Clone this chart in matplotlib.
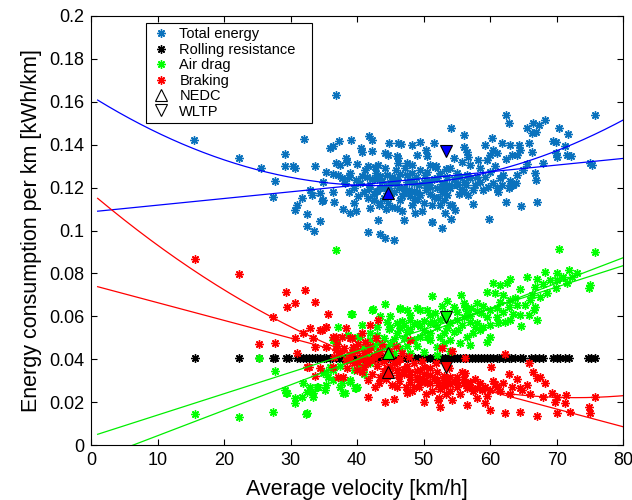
import numpy as np
import matplotlib
matplotlib.use("Agg")
import matplotlib.pyplot as plt
from matplotlib.lines import Line2D
from matplotlib.ticker import FuncFormatter

plt.rcParams['font.family'] = ['Liberation Sans', 'DejaVu Sans']

# Total energy per trip (x: average velocity km/h, y: kWh/km)
total_pts = [
    (15.5, 0.142), (22.2, 0.134), (25.5, 0.129), (27.7, 0.123), (27.3, 0.1158),
    (29.2, 0.1357), (29.2, 0.130), (30.4, 0.130), (30.6, 0.129), (32.0, 0.1426),
    (33.7, 0.130), (31.7, 0.115), (30.9, 0.1119), (30.7, 0.1096), (32.4, 0.1075),
    (32.4, 0.1021), (33.5, 0.0998), (34.4, 0.1044), (32.9, 0.1189), (33.2, 0.1165),
    (34.4, 0.1173), (34.9, 0.1142), (36.4, 0.1181), (36.5, 0.1134), (34.8, 0.1137),
    (35.9, 0.1386), (36.4, 0.1393), (37.3, 0.1419), (39.1, 0.1422), (41.8, 0.1440),
    (42.2, 0.1422), (40.6, 0.1386), (40.7, 0.1367), (42.3, 0.1372), (44.8, 0.1406),
    (46.2, 0.1406), (46.6, 0.1402), (48.3, 0.1399), (49.4, 0.1411), (50.4, 0.1375),
    (51.6, 0.1406), (36.9, 0.1313), (37.4, 0.1305), (38.4, 0.134), (38.5, 0.132),
    (40.0, 0.1308), (41.6, 0.1302), (43.2, 0.1305), (44.2, 0.136), (44.7, 0.1352),
    (46.0, 0.1349), (46.2, 0.1337), (47.5, 0.1313), (49.0, 0.1352), (50.5, 0.1347),
    (51.0, 0.1305), (51.7, 0.1297), (35.3, 0.1271), (36.4, 0.1262), (37.2, 0.1259),
    (38.9, 0.1267), (38.8, 0.1251), (37.7, 0.1243), (34.9, 0.1228), (37.9, 0.110),
    (38.9, 0.108), (39.8, 0.1091), (39.5, 0.1127), (41.7, 0.115), (42.0, 0.1106),
    (42.5, 0.1142), (43.5, 0.1127), (43.2, 0.1049), (44.4, 0.110), (46.0, 0.1103),
    (47.0, 0.1049), (48.7, 0.108), (51.2, 0.1041), (41.6, 0.0994), (43.5, 0.0982),
    (44.2, 0.0963), (45.5, 0.0956), (36.9, 0.163), (62.4, 0.1538), (62.8, 0.150),
    (54.1, 0.1476), (56.1, 0.1445), (60.3, 0.143), (65.5, 0.1476), (66.5, 0.1503),
    (67.3, 0.1492), (68.2, 0.1515), (66.3, 0.1453), (66.9, 0.146), (70.3, 0.1476),
    (71.7, 0.1448), (75.8, 0.1538), (69.5, 0.1417), (69.9, 0.1414), (71.3, 0.1394),
    (69.9, 0.136), (70.0, 0.1344), (71.5, 0.1352), (72.2, 0.1349), (75.0, 0.1313),
    (75.3, 0.1305), (67.9, 0.1316), (65.9, 0.1406), (66.3, 0.1367), (66.7, 0.127),
    (66.9, 0.1235), (63.9, 0.122), (63.5, 0.1212), (62.4, 0.1134), (64.6, 0.1114),
    (67.0, 0.1134), (59.9, 0.1052), (57.4, 0.1122), (54.1, 0.1054), (52.7, 0.1013),
    (51.2, 0.1038), (61.8, 0.1406), (63.0, 0.1399), (64.3, 0.1399), (64.5, 0.1375),
    (64.1, 0.1352), (63.3, 0.1352), (59.2, 0.1399), (60.5, 0.1375), (61.0, 0.136),
    (62.4, 0.1333), (60.0, 0.1352), (59.5, 0.1329), (56.0, 0.139), (56.5, 0.1367),
    (56.7, 0.1344), (57.0, 0.1305), (58.2, 0.1329), (58.5, 0.129), (55.7, 0.132),
    (54.5, 0.1337), (60.0, 0.1274), (61.5, 0.1243), (61.8, 0.1212), (61.0, 0.1196),
    (61.2, 0.118), (59.7, 0.1204), (58.5, 0.1228), (58.0, 0.1251), (57.0, 0.1243),
    (56.0, 0.1228), (55.0, 0.1212), (54.0, 0.1196), (53.5, 0.1165), (53.0, 0.1142),
    (52.5, 0.1119), (54.0, 0.1119), (54.7, 0.1096), (53.2, 0.108), (56.0, 0.118),
    (56.7, 0.1165), (57.5, 0.1189), (62.8, 0.1196), (63.3, 0.1212), (64.0, 0.1259),
    (40.5, 0.122), (41.0, 0.118), (41.5, 0.125), (42.0, 0.121), (42.5, 0.117),
    (43.0, 0.124), (43.5, 0.120), (44.0, 0.115), (44.5, 0.126), (45.0, 0.122),
    (45.5, 0.118), (46.0, 0.124), (46.5, 0.114), (47.0, 0.120), (47.5, 0.126),
    (48.0, 0.116), (48.5, 0.122), (49.0, 0.118), (49.5, 0.128), (50.0, 0.113),
    (50.5, 0.121), (51.0, 0.117), (51.5, 0.124), (52.0, 0.120), (52.5, 0.127),
    (53.0, 0.122), (53.5, 0.125), (54.0, 0.129), (54.5, 0.124), (55.0, 0.127),
    (41.2, 0.128), (42.8, 0.127), (44.2, 0.129), (45.8, 0.128), (47.2, 0.129),
    (48.8, 0.125), (50.2, 0.126), (51.8, 0.130), (43.3, 0.112), (45.2, 0.111),
    (46.8, 0.109), (48.2, 0.112), (49.8, 0.109), (51.3, 0.112), (52.2, 0.115),
    (40.2, 0.116), (39.5, 0.120), (38.8, 0.118), (38.2, 0.122), (44.8, 0.120),
    (46.3, 0.120), (47.8, 0.119), (49.3, 0.121), (50.8, 0.123), (52.8, 0.118),
    (55.5, 0.125), (56.5, 0.126), (45.3, 0.125), (43.8, 0.123), (42.2, 0.124),
    (48.3, 0.127), (50.3, 0.119), (53.8, 0.121), (55.3, 0.117), (57.8, 0.121),
    (46.7, 0.116), (48.7, 0.114), (44.6, 0.113), (42.6, 0.114), (54.3, 0.112),
    (56.3, 0.121), (59.0, 0.119), (60.5, 0.122), (62.0, 0.126), (63.0, 0.123),
    (65.0, 0.128), (65.5, 0.131), (60.7, 0.130), (59.3, 0.125),
    (43.0, 0.1185), (44.0, 0.1205), (45.0, 0.1165), (46.0, 0.1215), (47.0, 0.1175),
    (48.0, 0.1235), (49.0, 0.1145), (50.0, 0.1225), (51.0, 0.1205), (52.0, 0.1245),
    (53.0, 0.1195), (47.5, 0.1225), (45.5, 0.1235), (43.5, 0.1255), (49.5, 0.1165),
    (51.5, 0.1155), (46.5, 0.1265), (44.5, 0.1175), (48.5, 0.1185), (50.5, 0.1275),
    (41.8, 0.1195), (40.8, 0.1255), (39.8, 0.1235), (52.7, 0.1215), (54.8, 0.1215),
    (55.8, 0.1195), (42.7, 0.1295), (46.2, 0.1315), (48.2, 0.1305), (53.3, 0.1285),
]

# Rolling resistance (constant per km)
rolling_x = [15.6, 22.3, 25.3, 27.3, 27.7, 29.3, 29.7, 31.0, 31.4, 31.9, 32.3, 32.8,
             33.2, 33.6, 34.0, 34.5, 35.0, 35.4, 35.9, 36.3, 36.8, 37.3, 37.7, 38.2,
             38.6, 39.1, 39.5, 40.0, 40.4, 40.9, 41.4, 41.8, 42.3, 42.7, 43.2, 43.6,
             44.1, 44.6, 45.0, 45.5, 45.9, 46.4, 46.8, 47.3, 47.7, 48.2, 48.7, 49.1,
             49.6, 50.0, 50.5, 50.9, 51.4, 51.8, 52.3, 52.8, 53.2, 53.7, 54.1, 54.6,
             55.0, 55.5, 55.9, 56.4, 56.9, 57.3, 57.8, 58.2, 58.7, 59.1, 59.6, 60.0,
             60.5, 61.0, 61.4, 61.9, 62.3, 62.8, 63.2, 63.8, 64.5, 65.0, 66.2, 66.7,
             67.3, 68.0, 69.5, 70.0, 70.5, 71.3, 71.8, 74.7, 75.2, 75.8]
rolling_y = [0.0405] * len(rolling_x)

# Air drag
air_pts = [
    (15.6, 0.0143), (22.3, 0.0132), (25.3, 0.0407), (27.3, 0.0152), (27.7, 0.0346),
    (29.3, 0.0241), (29.2, 0.0256), (30.7, 0.0194), (30.6, 0.0218), (31.7, 0.0225),
    (32.4, 0.0148), (32.4, 0.0248), (32.9, 0.0272), (33.4, 0.0225), (34.2, 0.0272),
    (35.2, 0.0256), (35.4, 0.028), (35.3, 0.0342), (35.7, 0.0318), (36.4, 0.035),
    (36.9, 0.0909), (37.2, 0.0549), (39.1, 0.061), (37.7, 0.0288), (38.2, 0.0241),
    (36.4, 0.0489), (36.9, 0.0474), (39.7, 0.0264), (40.0, 0.0505), (32.3, 0.0144),
    (44.2, 0.0657), (42.3, 0.0629), (44.9, 0.0601), (46.4, 0.0633), (47.5, 0.0629),
    (49.0, 0.0637), (46.0, 0.0567), (47.0, 0.0559), (48.0, 0.0583), (45.0, 0.0552),
    (38.7, 0.0513), (40.5, 0.0505), (42.0, 0.0489), (43.0, 0.0474), (44.0, 0.0458),
    (35.9, 0.0365), (34.9, 0.0334), (36.4, 0.0303), (37.4, 0.0272), (38.9, 0.0303),
    (40.0, 0.0269), (33.9, 0.0272), (33.4, 0.0241), (31.9, 0.0288), (29.4, 0.0241),
    (70.4, 0.0914), (75.8, 0.0901), (68.2, 0.0808), (70.0, 0.080), (71.8, 0.0816),
    (72.3, 0.0785), (71.5, 0.0754), (69.9, 0.073), (67.0, 0.0772), (66.8, 0.0738),
    (65.5, 0.0785), (63.0, 0.0772), (62.5, 0.0754), (61.5, 0.0746), (60.5, 0.0754),
    (59.5, 0.0715), (60.8, 0.0707), (62.0, 0.070), (63.0, 0.0676), (64.5, 0.0726),
    (63.8, 0.0684), (64.0, 0.0653), (65.3, 0.0653), (66.3, 0.070), (66.8, 0.0645),
    (66.6, 0.0629), (67.0, 0.0583), (65.8, 0.0606), (64.6, 0.0555), (75.0, 0.0746),
    (74.8, 0.073), (70.0, 0.0769), (51.2, 0.0695), (53.5, 0.0673), (55.6, 0.070),
    (56.2, 0.0645), (57.2, 0.0637), (58.0, 0.066), (58.7, 0.0614), (60.0, 0.0629),
    (61.0, 0.0598), (61.2, 0.0567), (62.3, 0.0575), (63.0, 0.0583), (60.0, 0.0559),
    (59.0, 0.0552), (58.0, 0.0567), (57.0, 0.0575), (56.0, 0.0598), (55.0, 0.0583),
    (55.2, 0.0536), (56.5, 0.0505), (57.5, 0.0521), (58.5, 0.0536), (60.0, 0.0505),
    (59.5, 0.0482), (57.0, 0.0466), (55.5, 0.0474), (54.0, 0.0489), (53.0, 0.0474),
    (52.0, 0.0458), (51.0, 0.0489), (50.0, 0.0536), (49.0, 0.0567), (49.5, 0.0629),
    (50.5, 0.0629), (51.7, 0.0614), (53.5, 0.0614), (52.5, 0.0583), (51.0, 0.0567),
    (54.5, 0.0645), (49.5, 0.0505), (48.5, 0.0489), (48.0, 0.043), (50.0, 0.0435),
    (52.0, 0.042), (54.0, 0.044), (39.2, 0.0611), (42.4, 0.0632), (46.5, 0.0637),
    (37.9, 0.0241), (39.8, 0.0264), (38.9, 0.0295),
    (41.0, 0.045), (42.0, 0.052), (43.0, 0.055), (44.0, 0.050), (45.0, 0.047),
    (46.0, 0.052), (47.0, 0.050), (48.0, 0.054), (49.0, 0.046), (50.0, 0.058),
    (51.0, 0.052), (52.0, 0.055), (53.0, 0.052), (54.0, 0.057), (55.0, 0.062),
    (56.0, 0.066), (57.0, 0.060), (58.0, 0.0625), (59.0, 0.065), (61.0, 0.064),
    (62.0, 0.062), (63.5, 0.061), (64.5, 0.0605), (66.0, 0.0675), (68.0, 0.075),
    (69.0, 0.077), (71.0, 0.0785), (73.0, 0.080), (68.5, 0.071), (67.5, 0.069),
    (41.5, 0.041), (43.5, 0.044), (45.5, 0.043), (46.5, 0.045), (47.5, 0.046),
    (40.5, 0.037), (39.5, 0.035), (41.0, 0.033), (42.0, 0.038), (44.8, 0.054),
    (46.8, 0.058), (52.8, 0.065), (55.8, 0.056), (57.8, 0.055), (43.5, 0.060),
    (40.8, 0.056), (39.5, 0.045), (38.5, 0.040), (37.5, 0.037),
    (45.5, 0.0495), (46.5, 0.0545), (47.5, 0.0525), (48.5, 0.0565), (49.5, 0.0555),
    (50.5, 0.0505), (51.5, 0.0575), (52.5, 0.0505), (53.5, 0.0545), (54.5, 0.0525),
    (44.5, 0.0575), (43.0, 0.0515), (42.5, 0.0455), (48.0, 0.0605), (51.0, 0.0605),
    (53.0, 0.0595), (56.5, 0.0625), (59.5, 0.0595), (61.5, 0.0665), (62.8, 0.0645),
]

# Braking
brake_pts = [
    (15.6, 0.0866), (22.3, 0.0797), (29.3, 0.0712), (29.4, 0.0642), (30.6, 0.0663),
    (32.1, 0.0723), (33.7, 0.0665), (27.3, 0.0598), (25.3, 0.0471), (27.7, 0.0474),
    (30.7, 0.050), (31.0, 0.0427), (32.4, 0.0362), (32.9, 0.0544), (31.9, 0.0521),
    (33.4, 0.0497), (34.4, 0.0536), (35.4, 0.0552), (35.7, 0.0609), (36.9, 0.0505),
    (38.4, 0.0544), (36.9, 0.0443), (36.4, 0.0365), (33.6, 0.0322), (37.9, 0.0318),
    (38.4, 0.0396), (39.4, 0.0458), (34.7, 0.0536), (35.3, 0.0549), (36.4, 0.0505),
    (37.7, 0.0505), (39.2, 0.0497), (40.7, 0.0521), (42.0, 0.0559), (43.2, 0.0583),
    (35.4, 0.0458), (33.7, 0.0458), (32.7, 0.0365), (34.4, 0.0357), (37.2, 0.0318),
    (38.9, 0.0396), (41.5, 0.0396), (40.0, 0.035), (41.7, 0.0303), (42.7, 0.0272),
    (41.7, 0.0222), (44.2, 0.0199), (45.5, 0.0213), (46.0, 0.0272), (47.5, 0.0241),
    (48.0, 0.0295), (43.5, 0.0318), (45.0, 0.0334), (62.3, 0.0424), (65.9, 0.0384),
    (60.1, 0.0362), (62.8, 0.0331), (64.0, 0.0306), (66.5, 0.0342), (67.0, 0.0311),
    (67.5, 0.0316), (68.3, 0.029), (65.5, 0.028), (64.5, 0.0264), (63.3, 0.0272),
    (62.0, 0.0288), (61.0, 0.0272), (60.0, 0.0256), (59.2, 0.0272), (58.0, 0.0264),
    (57.0, 0.0272), (56.0, 0.0288), (55.0, 0.0318), (56.2, 0.0334), (54.0, 0.0318),
    (53.0, 0.0303), (52.2, 0.028), (51.0, 0.0288), (50.0, 0.0303), (49.0, 0.0318),
    (48.5, 0.0272), (50.0, 0.0202), (52.5, 0.0179), (56.5, 0.0186), (59.2, 0.0194),
    (60.0, 0.0163), (62.3, 0.0151), (64.5, 0.0155), (67.0, 0.0135), (69.3, 0.0241),
    (70.0, 0.0225), (71.4, 0.0233), (69.8, 0.0202), (71.3, 0.0194), (70.0, 0.0151),
    (72.0, 0.0155), (75.8, 0.0225), (74.8, 0.0179), (75.0, 0.0151), (48.0, 0.0489),
    (52.7, 0.0451), (54.2, 0.044), (56.2, 0.0404), (52.1, 0.021),
    (38.0, 0.045), (39.0, 0.042), (40.0, 0.044), (40.5, 0.040), (41.0, 0.043),
    (41.5, 0.038), (42.0, 0.046), (42.5, 0.041), (43.0, 0.037), (43.5, 0.044),
    (44.0, 0.039), (44.5, 0.036), (45.0, 0.041), (45.5, 0.038), (46.0, 0.035),
    (46.5, 0.040), (47.0, 0.033), (47.5, 0.037), (48.0, 0.034), (48.5, 0.038),
    (49.0, 0.031), (49.5, 0.035), (50.0, 0.033), (50.5, 0.029), (51.0, 0.036),
    (51.5, 0.031), (52.0, 0.034), (52.5, 0.026), (53.0, 0.032), (53.5, 0.029),
    (54.0, 0.025), (54.5, 0.030), (55.0, 0.027), (55.5, 0.024), (56.0, 0.031),
    (57.5, 0.025), (58.5, 0.029), (59.5, 0.023), (61.5, 0.025), (63.0, 0.024),
    (58.0, 0.022), (39.5, 0.038), (40.2, 0.047), (41.2, 0.048), (43.8, 0.047),
    (44.8, 0.044), (46.8, 0.043), (37.5, 0.043), (38.5, 0.036), (40.8, 0.034),
    (42.3, 0.033), (43.3, 0.029), (44.3, 0.031), (45.3, 0.028), (46.3, 0.030),
    (47.3, 0.027), (48.3, 0.025), (49.3, 0.027), (50.3, 0.024), (51.3, 0.025),
    (52.3, 0.022), (53.3, 0.024), (54.3, 0.021), (36.5, 0.041), (37.0, 0.047),
    (39.0, 0.050), (42.8, 0.050), (45.8, 0.046), (47.8, 0.041), (49.8, 0.039),
    (51.8, 0.038), (53.8, 0.036), (55.8, 0.034), (57.8, 0.031), (60.5, 0.030),
    (64.8, 0.0255), (66.0, 0.024), (68.0, 0.0225),
    (40.0, 0.0385), (41.0, 0.0365), (42.0, 0.0395), (43.0, 0.0425), (44.0, 0.0345),
    (45.0, 0.0365), (46.0, 0.0385), (47.0, 0.0355), (48.0, 0.0315), (49.0, 0.0345),
    (50.0, 0.0365), (51.0, 0.0325), (52.0, 0.0305), (53.0, 0.0275), (54.0, 0.0285),
    (55.0, 0.0295), (56.5, 0.0265), (57.0, 0.0295), (58.8, 0.0255), (60.8, 0.0285),
    (39.2, 0.0435), (41.8, 0.0445), (44.2, 0.0415), (46.2, 0.0325), (49.5, 0.0295),
]

# Drive cycles: [total, air drag, braking]
nedc_v = 44.6
nedc_vals = [0.1173, 0.0427, 0.0342]
wltp_v = 53.3
wltp_vals = [0.1372, 0.0595, 0.0362]

# Fit curves, polynomial coefficients (highest power first)
fit_range = [1, 80]
total_fits = [[2.248e-5, -0.0019386, 0.16272], [0.0003114, 0.10869]]
brake_fits = [[1.8e-5, -0.0026226, 0.1176], [-0.0008266, 0.07463]]
air_fits = [[0.000995, 0.004], [0.0011855, -0.00754]]

c_total = '#0a72bd'
c_air = '#00ff00'
c_brake = '#ff0000'
star = (8, 2, 0)

fig = plt.figure(figsize=(6.32, 5.0), dpi=100)
ax = fig.add_axes([0.144, 0.11, 0.842, 0.858])

def scatter(pts, color, label):
    x, y = zip(*pts)
    ax.plot(x, y, linestyle='none', marker=star, markersize=6, markeredgewidth=1.0,
            color=color, label=label)

scatter(total_pts, c_total, 'Total energy')
ax.plot(rolling_x, rolling_y, linestyle='none', marker=star, markersize=6,
        markeredgewidth=1.0, color='black', label='Rolling resistance')
scatter(air_pts, c_air, 'Air drag')
scatter(brake_pts, c_brake, 'Braking')

xf = np.linspace(fit_range[0], fit_range[1], 200)
for coefs in total_fits:
    ax.plot(xf, np.polyval(coefs, xf), color='#0000ff', lw=0.9)
for coefs in brake_fits:
    ax.plot(xf, np.polyval(coefs, xf), color='#ff0000', lw=0.9)
for coefs in air_fits:
    ax.plot(xf, np.polyval(coefs, xf), color='#00ee00', lw=0.9)

tri_cols = ['#0000ff', c_air, c_brake]
for val, col in zip(nedc_vals, tri_cols):
    ax.plot(nedc_v, val, marker='^', markersize=9, markerfacecolor=col,
            markeredgecolor='black', markeredgewidth=0.8, linestyle='none')
for val, col in zip(wltp_vals, tri_cols):
    ax.plot(wltp_v, val, marker='v', markersize=9, markerfacecolor=col,
            markeredgecolor='black', markeredgewidth=0.8, linestyle='none')

ax.set_xlim(0, 80)
ax.set_ylim(0, 0.2)
ax.set_xticks(np.arange(0, 81, 10))
ax.set_yticks(np.arange(0, 0.201, 0.02))
ax.yaxis.set_major_formatter(FuncFormatter(lambda v, p: '%g' % round(v, 2)))
ax.tick_params(direction='in', top=True, right=True, length=4, width=0.8,
               labelsize=13, pad=5)
for s in ax.spines.values():
    s.set_linewidth(0.8)
ax.set_xlabel('Average velocity [km/h]', fontsize=15.5, labelpad=7)
ax.set_ylabel('Energy consumption per km [kWh/km]', fontsize=15.5, labelpad=5)

handles = [
    Line2D([], [], linestyle='none', marker=star, markersize=6, markeredgewidth=1.0, color=c_total),
    Line2D([], [], linestyle='none', marker=star, markersize=6, markeredgewidth=1.0, color='black'),
    Line2D([], [], linestyle='none', marker=star, markersize=6, markeredgewidth=1.0, color=c_air),
    Line2D([], [], linestyle='none', marker=star, markersize=6, markeredgewidth=1.0, color=c_brake),
    Line2D([], [], linestyle='none', marker='^', markersize=8, markerfacecolor='white',
           markeredgecolor='black', markeredgewidth=0.8),
    Line2D([], [], linestyle='none', marker='v', markersize=8, markerfacecolor='white',
           markeredgecolor='black', markeredgewidth=0.8),
]
# trailing spaces widen the box like the MATLAB legend
labels = ['Total energy', 'Rolling resistance   ', 'Air drag', 'Braking', 'NEDC', 'WLTP']
leg = ax.legend(handles, labels, loc='upper left', bbox_to_anchor=(0.103, 0.984),
                borderaxespad=0, fancybox=False, edgecolor='black', framealpha=1,
                fontsize=10.5, handlelength=1.5, handletextpad=0.5, labelspacing=0.1,
                borderpad=0.3)
leg.get_frame().set_linewidth(0.8)

fig.savefig('out.png', dpi=100)
